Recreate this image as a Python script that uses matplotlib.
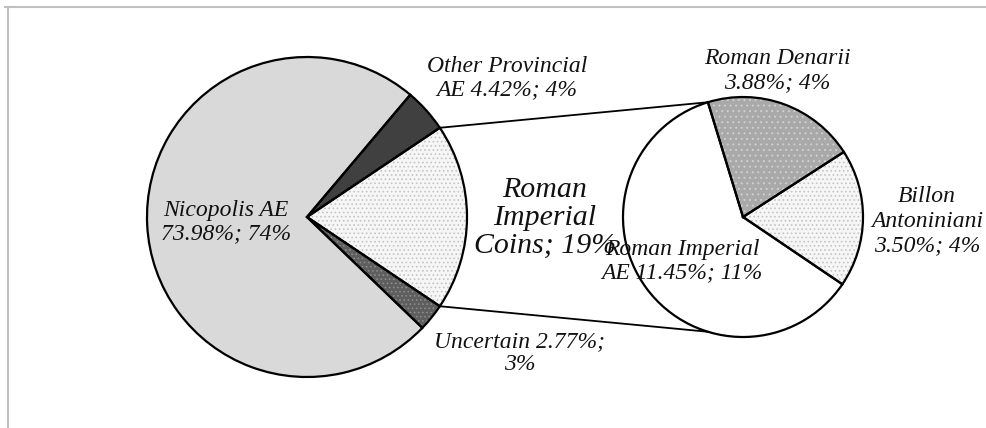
import numpy as np
import matplotlib
matplotlib.use("Agg")
import matplotlib.pyplot as plt
from matplotlib.patches import Wedge

# main pie (percent of all coins)
main_labels = ['Roman\nImperial\nCoins; 19%', 'Other Provincial\nAE 4.42%; 4%',
               'Nicopolis AE\n73.98%; 74%', 'Uncertain 2.77%;\n3%']
other_prov = 4.42
nicopolis = 73.98
uncertain = 2.77

# breakdown of Roman Imperial coins
sub_labels = ['Roman Denarii\n3.88%; 4%', 'Billon\nAntoniniani\n3.50%; 4%',
              'Roman Imperial\nAE 11.45%; 11%']
sub_values = [3.88, 3.50, 11.45]

roman_total = sum(sub_values)
main_values = [roman_total, other_prov, nicopolis, uncertain]

W, H = 987, 428
fig = plt.figure(figsize=(W / 100, H / 100), dpi=100)
ax = fig.add_axes([0, 0, 1, 1])

c_main = (307, H - 217)
r_main = 160
c_sub = (743, H - 217)
r_sub = 120

main_face = ['#f6f6f6', '#404040', '#d9d9d9', '#5e5e5e']
main_hatch = ['....', None, None, '....']
main_hcol = ['#c4c4c4', '#404040', '#d9d9d9', '#8c8c8c']
sub_face = ['#a9a9a9', '#f6f6f6', 'white']
sub_hatch = ['...', '....', None]
sub_hcol = ['#d0d0d0', '#c4c4c4', 'white']

plt.rcParams['hatch.linewidth'] = 0.7

start_main = -roman_total / 100 * 360 / 2
w_main, _ = ax.pie(main_values, center=c_main, radius=r_main, startangle=start_main,
                   counterclock=True, colors=main_face,
                   wedgeprops=dict(linewidth=0))
w_sub, _ = ax.pie(sub_values, center=c_sub, radius=r_sub, startangle=107,
                  counterclock=False, colors=sub_face,
                  wedgeprops=dict(linewidth=0))

# hatching in a soft grey, then black outlines on top
for wl, hatches, hcols in [(w_main, main_hatch, main_hcol), (w_sub, sub_hatch, sub_hcol)]:
    for w, h, hc in zip(wl, hatches, hcols):
        if h:
            w.set_hatch(h)
            w.set_edgecolor(hc)
        outline = Wedge(w.center, w.r, w.theta1, w.theta2, fill=False,
                        edgecolor='black', linewidth=1.6, zorder=3)
        ax.add_patch(outline)

# connector lines
a0 = np.deg2rad(abs(start_main))
a1 = np.deg2rad(107)
for s in (1, -1):
    p0 = (c_main[0] + r_main * np.cos(s * a0), c_main[1] + r_main * np.sin(s * a0))
    p1 = (c_sub[0] + r_sub * np.cos(s * a1), c_sub[1] + r_sub * np.sin(s * a1))
    ax.plot([p0[0], p1[0]], [p0[1], p1[1]], color='black', lw=1.3, zorder=1)

font = dict(family='Liberation Serif', style='italic', color='#111111',
            ha='center', va='center', zorder=5)
small = 17
ax.text(226, H - 222, main_labels[2], fontsize=small, linespacing=1.15, **font)
ax.text(507, H - 78, main_labels[1], fontsize=small, linespacing=1.15, **font)
ax.text(545, H - 218, main_labels[0], fontsize=21.5, linespacing=1.1, **font)
ax.text(520, H - 353, main_labels[3], fontsize=small, linespacing=1.15, **font)
ax.text(777, H - 71, sub_labels[0], fontsize=small, linespacing=1.2, **font)
ax.text(927, H - 221, sub_labels[1], fontsize=small, linespacing=1.2, **font)
ax.text(682, H - 261, sub_labels[2], fontsize=small, linespacing=1.15, **font)

ax.set_xlim(0, W)
ax.set_ylim(0, H)
ax.set_aspect('auto')
ax.axis('off')

# chart area frame (top and left edges visible)
fig.add_artist(plt.Line2D([5 / W, 1], [1 - 7 / H, 1 - 7 / H], color='#c0c0c0', lw=1.5))
fig.add_artist(plt.Line2D([8 / W, 8 / W], [0, 1 - 7 / H], color='#c0c0c0', lw=1.5))

fig.savefig('out.png', dpi=100, facecolor='white')
